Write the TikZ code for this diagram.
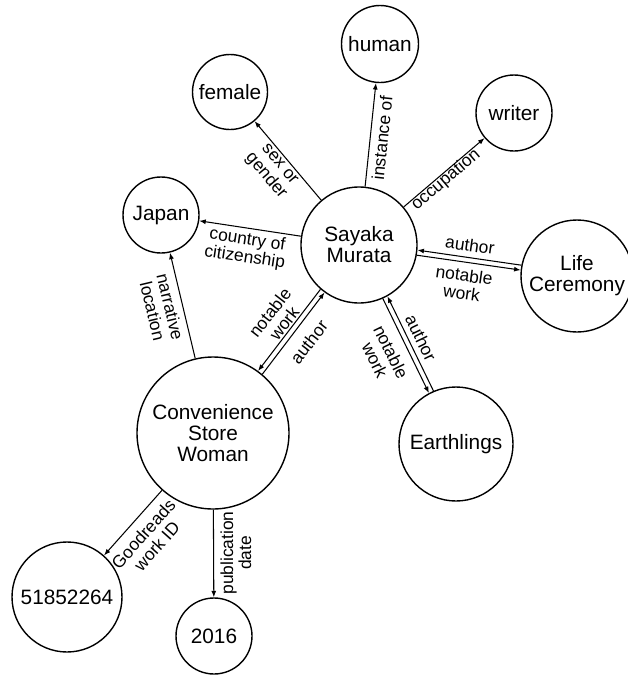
\documentclass[tikz,border=0pt]{standalone}
\usepackage{fontspec}
\setmainfont{Liberation Sans}
\usetikzlibrary{arrows.meta}
\tikzset{
  ent/.style={circle, draw, line width=1.4pt, inner sep=0pt, align=center,
    font=\fontsize{20.8}{21}\selectfont},
  rel/.style={-{Latex[length=6.5pt,width=5pt]}, line width=1.05pt},
  lbl/.style={inner sep=0pt, align=center, font=\fontsize{17.4}{18}\selectfont},
}
\begin{document}
\begin{tikzpicture}[x=1pt,y=-1pt]
\useasboundingbox (0,0) rectangle (627,675);

% entities
\node[ent, minimum size=116pt] (sm) at (359,245) {Sayaka\\Murata};
\node[ent, minimum size=77pt]  (hu) at (380,44)  {human};
\node[ent, minimum size=75pt]  (fe) at (230,92)  {female};
\node[ent, minimum size=76pt]  (wr) at (514,113) {writer};
\node[ent, minimum size=76pt]  (jp) at (161,215) {Japan};
\node[ent, minimum size=112pt] (lc) at (577,276) {Life\\Ceremony};
\node[ent, minimum size=114pt] (ea) at (456,444) {Earthlings};
\node[ent, minimum size=152pt] (cs) at (213,433) {Convenience\\Store\\Woman};
\node[ent, minimum size=110pt] (gr) at (67,597)  {51852264};
\node[ent, minimum size=76pt]  (yr) at (214,636) {2016};

% single relations
\draw[rel] (sm) -- (fe);
\draw[rel] (sm) -- (hu);
\draw[rel] (sm) -- (wr);
\draw[rel] (sm) -- (jp);
\draw[rel] (cs) -- (jp);
\draw[rel] (cs) -- (gr);
\draw[rel] (cs) -- (yr);

% paired relations (author / notable work)
\draw[rel] (lc.169.35) -- (sm.-5.62);
\draw[rel] (sm.-10.56) -- (lc.174.47);
\draw[rel] (ea.113.48) -- (sm.-61.54);
\draw[rel] (sm.-66.48) -- (ea.118.5);
\draw[rel] (cs.50.29) -- (sm.234.64);
\draw[rel] (sm.229.70) -- (cs.54.05);

% relation labels
\node[lbl, rotate=-50]   (l-sex) at (272,171) {sex or\\gender};
\node[lbl, rotate=84]    (l-ins) at (382,138) {instance of};
\node[lbl, rotate=40.4]  (l-occ) at (446,180) {occupation};
\node[lbl, rotate=-8.6]  (l-cit) at (246,249) {country of\\citizenship};
\node[lbl, rotate=-8.1]  (l-la)  at (470,245) {author};
\node[lbl, rotate=-8.1]  (l-ln)  at (463,284) {notable\\work};
\node[lbl, rotate=-64]   (l-ea)  at (421,338) {author};
\node[lbl, rotate=-64]   (l-en)  at (383,356) {notable\\work};
\node[lbl, rotate=52.2]  (l-cn)  at (277,318) {notable\\work};
\node[lbl, rotate=52.2]  (l-ca)  at (309,342) {author};
\node[lbl, rotate=-76.6] (l-nar) at (161.5,309) {narrative\\location};
\node[lbl, rotate=48.3]  (l-gr)  at (150,540) {Goodreads\\work ID};
\node[lbl, rotate=90]    (l-pub) at (236,553) {publication\\date};
\end{tikzpicture}
\end{document}
